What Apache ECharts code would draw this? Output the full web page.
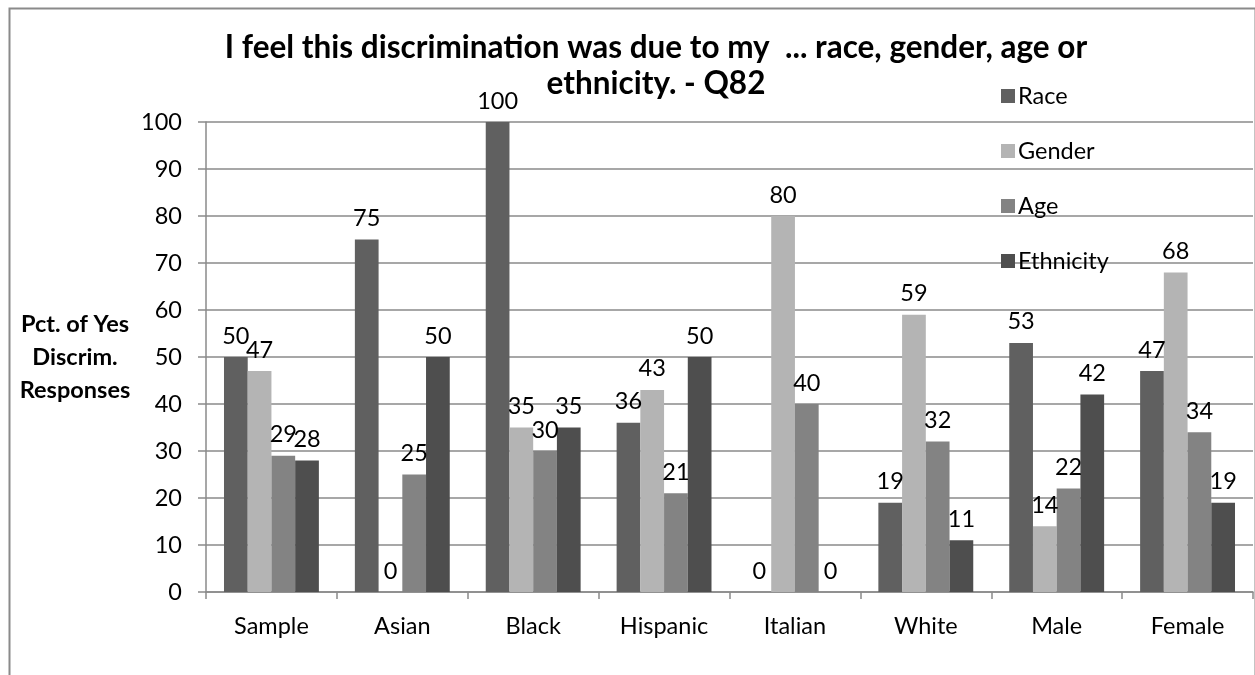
<!DOCTYPE html>
<html>
<head>
<meta charset="utf-8">
<script src="https://cdn.jsdelivr.net/npm/echarts@6/dist/echarts.min.js"></script>
<style>
  html, body { margin: 0; padding: 0; background: #fff; }
  #chart-container { width: 1255px; height: 675px; }
</style>
</head>
<body>
<div id="chart-container"></div>
<script>
// groups along the x axis
var categories = ['Sample', 'Asian', 'Black', 'Hispanic', 'Italian', 'White', 'Male', 'Female'];

// percent of yes responses, one array per reason
var race      = [50, 75, 100, 36, 0, 19, 53, 47];
var gender    = [47, 0, 35, 43, 80, 59, 14, 68];
var age       = [29, 25, 30, 21, 40, 32, 22, 34];
var ethnicity = [28, 50, 35, 50, 0, 11, 42, 19];

var seriesNames = ['Race', 'Gender', 'Age', 'Ethnicity'];
var seriesData = [race, gender, age, ethnicity];
var seriesColors = ['#606060', '#b4b4b4', '#838383', '#4e4e4e'];

var fontName = 'Lato, "Open Sans", sans-serif';
var fs = 23.5;

var dom = document.getElementById('chart-container');
var myChart = echarts.init(dom, null, { renderer: 'canvas' });

var series = [];
for (let i = 0; i < seriesNames.length; i++) {
  series.push({
    name: seriesNames[i],
    type: 'bar',
    data: seriesData[i],
    barGap: '0%',
    barCategoryGap: '27.5%',
    itemStyle: { color: seriesColors[i] },
    label: {
      show: true,
      position: 'top',
      distance: 9,
      color: '#000',
      fontFamily: fontName,
      fontSize: fs
    }
  });
}

var option = {
  animation: false,
  backgroundColor: '#fff',
  textStyle: { fontFamily: fontName },
  title: {
    text: 'I feel this discrimination was due to my  ... race, gender, age or\nethnicity. - Q82',
    left: 651,
    top: 25,
    textAlign: 'center',
    textStyle: {
      fontFamily: fontName,
      fontSize: 31.5,
      fontWeight: 'bold',
      color: '#000',
      lineHeight: 36
    }
  },
  legend: {
    orient: 'vertical',
    left: 996,
    top: 79,
    itemWidth: 14,
    itemHeight: 14,
    itemGap: 31,
    icon: 'rect',
    textStyle: { fontFamily: fontName, fontSize: fs, color: '#000', padding: [0, 0, 0, -2] },
    data: seriesNames
  },
  grid: { left: 206, right: 2, top: 122, bottom: 83, containLabel: false },
  xAxis: {
    type: 'category',
    data: categories,
    axisLine: { lineStyle: { color: '#8a8a8a', width: 1.5 } },
    axisTick: { show: true, length: 7, lineStyle: { color: '#8a8a8a', width: 1.5 } },
    axisLabel: { color: '#000', fontFamily: fontName, fontSize: fs, margin: 22 }
  },
  yAxis: {
    type: 'value',
    min: 0,
    max: 100,
    interval: 10,
    name: 'Pct. of Yes\nDiscrim.\nResponses',
    nameLocation: 'middle',
    nameGap: 131,
    nameRotate: 0,
    nameTextStyle: {
      fontFamily: fontName,
      fontSize: fs,
      fontWeight: 'bold',
      color: '#000',
      lineHeight: 33,
      align: 'center'
    },
    axisLine: { show: true, lineStyle: { color: '#8a8a8a', width: 1.5 } },
    axisTick: { show: true, length: 8, lineStyle: { color: '#8a8a8a', width: 1.5 } },
    axisLabel: { color: '#000', fontFamily: fontName, fontSize: fs, margin: 24 },
    splitLine: { lineStyle: { color: '#8a8a8a', width: 1.5 } }
  },
  graphic: [
    {
      type: 'rect',
      left: 7,
      top: 6,
      z: -1,
      shape: { width: 1246, height: 720 },
      style: { fill: 'none', stroke: '#8a8a8a', lineWidth: 2 }
    }
  ],
  series: series
};

myChart.setOption(option);
window.addEventListener('resize', myChart.resize);
</script>
</body>
</html>
